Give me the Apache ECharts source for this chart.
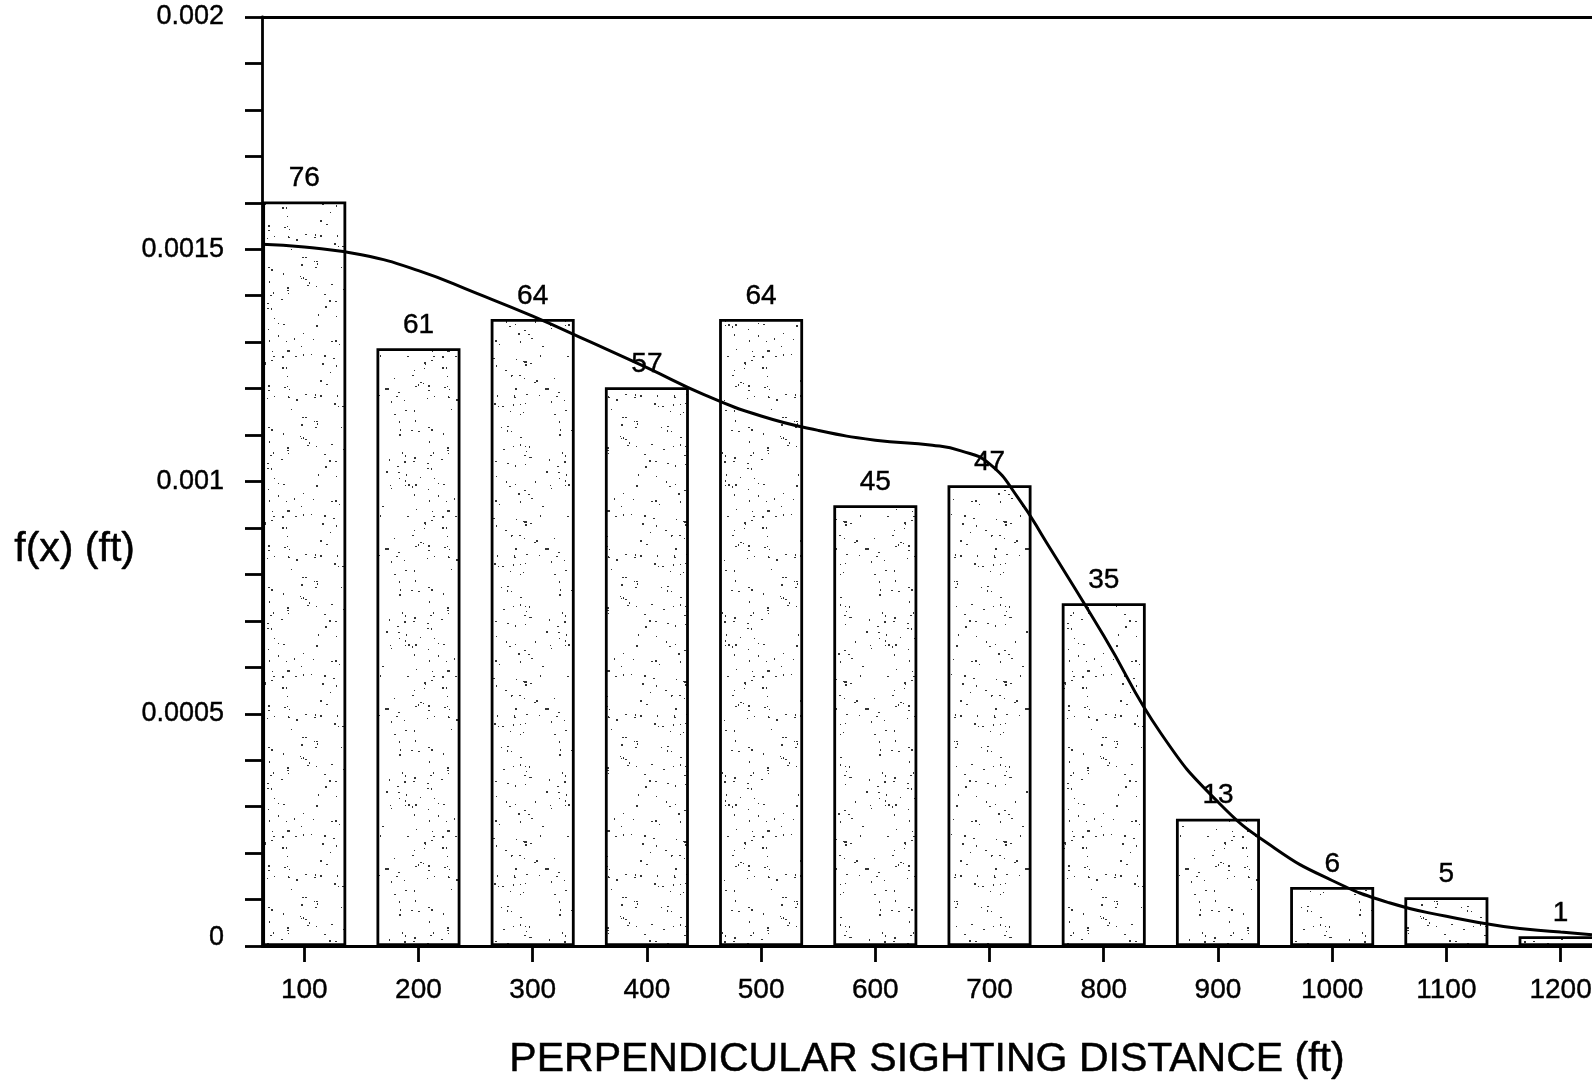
<!DOCTYPE html>
<html>
<head>
<meta charset="utf-8">
<script src="https://cdn.jsdelivr.net/npm/echarts@6/dist/echarts.min.js"></script>
<style>
html,body{margin:0;padding:0;background:#fff;}
#chart{width:1592px;height:1080px;}
</style>
</head>
<body>
<div id="chart"></div>
<script>
// ---- data ----
const categories = [100, 200, 300, 400, 500, 600, 700, 800, 900, 1000, 1100, 1200];
const counts = [76, 61, 64, 57, 64, 45, 47, 35, 13, 6, 5, 1];
const densities = [0.001603, 0.001287, 0.00135, 0.001203, 0.00135, 0.000949, 0.000992, 0.000738, 0.000274, 0.000127, 0.000105, 0.0000211];
const curveX = [63, 100, 150, 200, 250, 300, 350, 400, 450, 500, 550, 600, 650, 675, 700, 725, 750, 800, 850, 900, 950, 1000, 1050, 1100, 1150, 1200, 1227.5];
const curveY = [0.001511, 0.001505, 0.001488, 0.001454, 0.001406, 0.001356, 0.001301, 0.001245, 0.001187, 0.001141, 0.00111, 0.001089, 0.001078, 0.001066, 0.001038, 0.000965, 0.000868, 0.000668, 0.000458, 0.00031, 0.00021, 0.000141, 0.000093, 0.000064, 0.000042, 0.00003, 0.000024];
const yTickLabels = ['0', '0.0005', '0.001', '0.0015', '0.002'];
const xTitle = 'PERPENDICULAR SIGHTING DISTANCE (ft)';
const yTitle = 'f(x) (ft)';

// ---- stipple texture for the bars (deterministic hash, not data) ----
function makeStipple() {
  const c = document.createElement('canvas');
  c.width = 160; c.height = 160;
  const g = c.getContext('2d');
  g.fillStyle = '#ffffff';
  g.fillRect(0, 0, 160, 160);
  g.fillStyle = '#333333';
  let s = 12345;
  function nx() { s = (s * 1103515245 + 12345) % 2147483648; return s / 2147483648; }
  for (let i = 0; i < 190; i++) {
    const x = Math.floor(nx() * 160), y = Math.floor(nx() * 160);
    const w = nx() < 0.5 ? 2 : 1, h = nx() < 0.4 ? 2 : 1;
    g.fillRect(x, y, w, h);
  }
  return c;
}
const stipple = makeStipple();

const FONT = "'Liberation Sans', Arial, Helvetica, sans-serif";
const INK = {textBorderColor: '#000', textBorderWidth: 0.4};
const X_MIN = 63, X_MAX = 1227.5;
const chart = echarts.init(document.getElementById('chart'), null, {renderer: 'canvas'});

const barData = categories.map((c, i) => [c, densities[i]]);
const curveData = curveX.map((x, i) => [x, curveY[i]]);

chart.setOption({
  animation: false,
  backgroundColor: '#ffffff',
  grid: {left: 262, right: 0, top: 17, bottom: 134, containLabel: false, outerBoundsMode: 'none'},
  graphic: [{
    type: 'text', left: 14, top: 529,
    style: {text: yTitle, font: '41px ' + FONT, fill: '#000', stroke: '#000', lineWidth: 0.5}
  }],
  xAxis: [{
    type: 'value', min: X_MIN, max: X_MAX,
    splitLine: {show: false},
    axisLine: {show: true, lineStyle: {color: '#000', width: 2.8}},
    axisTick: {show: true, customValues: categories, length: 16, lineStyle: {color: '#000', width: 2.8}},
    axisLabel: {
      show: true, customValues: categories, margin: 30, color: '#000', fontSize: 28, fontFamily: FONT,
      formatter: function (v) { return String(v); }, ...INK
    },
    name: xTitle, nameLocation: 'middle', nameGap: 93,
    nameTextStyle: {color: '#000', fontSize: 41, fontFamily: FONT, textBorderColor: '#000', textBorderWidth: 0.5}
  }, {
    type: 'value', position: 'top', min: X_MIN, max: X_MAX,
    splitLine: {show: false},
    axisLine: {show: true, lineStyle: {color: '#000', width: 2.8}},
    axisTick: {show: false}, axisLabel: {show: false}
  }],
  yAxis: {
    type: 'value', min: 0, max: 0.002, interval: 0.0005,
    splitLine: {show: false},
    axisLine: {show: true, lineStyle: {color: '#000', width: 2.8}},
    axisTick: {show: true, length: 17, lineStyle: {color: '#000', width: 2.8}},
    minorTick: {show: true, splitNumber: 5, length: 17, lineStyle: {color: '#000', width: 2.8}},
    axisLabel: {
      margin: 38, color: '#000', fontSize: 27, fontFamily: FONT, ...INK,
      formatter: function (v) {
        const t = yTickLabels[Math.round(v / 0.0005)];
        return v === 0 ? '{z|' + t + '}' : t;
      },
      rich: {z: {fontSize: 27, fontFamily: FONT, color: '#000', padding: [0, 0, 16, 0], ...INK}}
    }
  },
  series: [{
    type: 'bar',
    data: barData,
    barWidth: 84,
    itemStyle: {color: {image: stipple, repeat: 'repeat'}, borderColor: '#000', borderWidth: 2.8},
    label: {
      show: true, position: 'top', distance: 9,
      color: '#000', fontSize: 28, fontFamily: FONT, ...INK,
      formatter: function (p) { return String(counts[p.dataIndex]); }
    },
    z: 2
  }, {
    type: 'line',
    data: curveData,
    smooth: 0.5,
    showSymbol: false,
    symbol: 'none',
    lineStyle: {color: '#000', width: 3},
    z: 3
  }]
});
</script>
</body>
</html>
